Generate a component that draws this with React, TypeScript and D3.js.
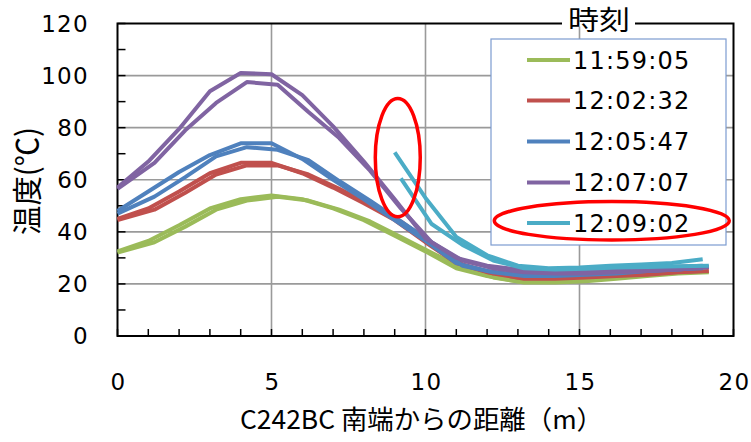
import React from "react";
import * as d3 from "d3";

// distances (m)
const distA = [0, 1, 2, 3, 4, 5, 6, 7, 8, 9, 10, 11, 12, 13, 14, 15, 16, 17, 18, 19];
const distB = [0, 1.2, 2.2, 3.2, 4.2, 5.2, 6.2, 7.2, 8.2, 9.2, 10.2, 11.2, 12.2, 13.2, 14.2, 15.2, 16.2, 17.2, 18.2, 19.2];

const times = ["11:59:05", "12:02:32", "12:05:47", "12:07:07", "12:09:02"];
const colors = ["#9BBB59", "#C0504D", "#4F81BD", "#8064A2", "#4BACC6"];

const greenA = [32.5, 36.5, 42.5, 49, 52.5, 54, 52.5, 49, 44.5, 38.5, 32.5, 26, 23, 21, 21, 21.5, 22.5, 23.5, 24.5, 25];
const greenB = [32, 36, 42, 48.5, 52, 53.5, 52, 48.5, 44, 38, 32, 26, 22.5, 20.5, 20.5, 21, 22, 23, 24, 24.5];
const redA = [45, 49, 55.5, 62.5, 66.5, 66.5, 62.5, 57, 51, 44.5, 36, 28, 24.5, 22.5, 22.5, 23, 23.5, 24, 24.5, 25];
const redB = [44.5, 48.5, 55, 62, 65.5, 65.5, 62, 56.5, 50.5, 44, 35.5, 27.5, 24, 22, 22, 22.5, 23, 23.5, 24.5, 25];
const blueA = [48, 55.5, 63, 69.5, 74, 74, 68, 60, 52.5, 44.5, 36.5, 28, 25, 23.5, 23.5, 24, 24.5, 25, 25.5, 26];
const blueB = [47, 53.5, 61, 69, 72.5, 71.5, 67.5, 59.5, 52, 44, 36, 27, 24.5, 23, 23, 23.5, 24, 25, 25.5, 26.5];
const purpleA = [57, 67, 79.5, 94, 101, 100.5, 92.5, 80.5, 67, 52.5, 37.5, 30, 27, 25.5, 25, 25, 25.5, 26, 26.5, 27];
const purpleB = [56.5, 66.5, 79, 89.5, 97.5, 96.5, 86, 76, 63.5, 49, 36, 29, 26, 24.5, 24, 24, 24.5, 25, 25.5, 26.5];
const cyanA = [null, null, null, null, null, null, null, null, null, 70.5, 53, 38, 31, 27, 26, 26.3, 27, 27.5, 28, 29.5];
const cyanB = [null, null, null, null, null, null, null, null, null, 60.5, 43, 35, 29, 26, 25.5, 25.8, 26.3, 26.5, 26.8, 27];

const seriesValues = [
  [greenA, greenB],
  [redA, redB],
  [blueA, blueB],
  [purpleA, purpleB],
  [cyanA, cyanB],
];

const xTicks = [0, 5, 10, 15, 20];
const yTicks = [0, 20, 40, 60, 80, 100, 120];
const xTitle = "C242BC 南端からの距離（m）";
const yTitle = "温度(℃)";
const legendTitle = "時刻";

// annotation ellipse around the start of 12:09:02 (data units)
const noteCenter = [9.1, 68.5];
const noteRadius = [0.73, 22.7];

export default function App() {
  const W = 751, H = 442;
  const left = 117.5, right = 733.5, top = 23.5, bottom = 336;
  const x = d3.scaleLinear().domain([0, 20]).range([left, right]);
  const y = d3.scaleLinear().domain([0, 120]).range([bottom, top]);
  const line = d3
    .line<[number, number | null]>()
    .defined((d) => d[1] != null)
    .x((d) => x(d[0]))
    .y((d) => y(d[1] as number));

  const minorX = d3.range(0, 21, 1);
  const minorY = d3.range(0, 121, 10);
  const num = "'DejaVu Sans', Verdana, sans-serif";
  const jp = "'Noto Sans CJK JP', sans-serif";

  const legX = 491, legY = 39, legW = 235, legH = 206;
  const rowY = [60, 100.5, 141.5, 182.5, 223];

  return (
    <div style={{ position: "absolute", left: 0, top: 0 }}>
      <svg width={W} height={H} style={{ display: "block", background: "#fff" }}>
        {/* grid */}
        {yTicks.filter((t) => t > 0 && t < 120).map((t) => (
          <line key={"gy" + t} x1={left} x2={right} y1={y(t)} y2={y(t)} stroke="#9a9a9a" strokeWidth={1.6} />
        ))}
        {xTicks.filter((t) => t > 0 && t < 20).map((t) => (
          <line key={"gx" + t} x1={x(t)} x2={x(t)} y1={top} y2={bottom} stroke="#9a9a9a" strokeWidth={1.6} />
        ))}
        {/* inner ticks */}
        {minorY.map((t) => (
          <line key={"ty" + t} x1={left} x2={left + 8} y1={y(t)} y2={y(t)} stroke="#000" strokeWidth={1.5} />
        ))}
        {minorX.map((t) => (
          <line key={"tx" + t} x1={x(t)} x2={x(t)} y1={bottom} y2={bottom - 7} stroke="#000" strokeWidth={1.5} />
        ))}
        {/* frame */}
        <rect x={left} y={top} width={right - left} height={bottom - top} fill="none" stroke="#000" strokeWidth={2} />

        {/* series */}
        {seriesValues.map((pair, i) =>
          pair.map((vals, j) => {
            const xs = j === 0 ? distA : distB;
            const pts = xs.map((d, k) => [d, vals[k]] as [number, number | null]);
            return (
              <path
                key={"s" + i + "-" + j}
                d={line(pts) || ""}
                fill="none"
                stroke={colors[i]}
                strokeWidth={4}
                strokeLinejoin="round"
              />
            );
          })
        )}

        {/* annotation ellipse */}
        <ellipse
          cx={x(noteCenter[0])}
          cy={y(noteCenter[1])}
          rx={x(noteRadius[0]) - x(0)}
          ry={y(0) - y(noteRadius[1])}
          fill="none"
          stroke="#ff0000"
          strokeWidth={3.5}
        />

        {/* y tick labels */}
        {yTicks.map((t) => (
          <text key={"yl" + t} x={89} y={y(t)} dy="0.36em" textAnchor="end" fontFamily={num} fontSize={23} letterSpacing={1.3} fill="#000">
            {t}
          </text>
        ))}
        {/* x tick labels */}
        {xTicks.map((t) => (
          <text key={"xl" + t} x={x(t) + 1} y={382} dy="0.36em" textAnchor="middle" fontFamily={num} fontSize={23} letterSpacing={1.3} fill="#000">
            {t}
          </text>
        ))}
        {/* axis titles */}
        <text x={421.5} y={420} dy="0.36em" textAnchor="middle" fontFamily={jp} fontSize={26} textLength={363} lengthAdjust="spacingAndGlyphs" fill="#000">
          {xTitle}
        </text>
        <text
          transform={`translate(27,181) rotate(-90)`}
          textAnchor="middle"
          dy="0.36em"
          fontFamily={jp}
          fontSize={30}
          textLength={108}
          lengthAdjust="spacingAndGlyphs"
          fill="#000"
        >
          {yTitle}
        </text>

        {/* legend */}
        <rect x={legX} y={legY} width={legW} height={legH} fill="#fff" stroke="#7c9cd0" strokeWidth={1.2} />
        {times.map((t, i) => (
          <g key={"lg" + i}>
            <line x1={527} x2={570} y1={rowY[i]} y2={rowY[i]} stroke={colors[i]} strokeWidth={4} />
            <text x={573} y={rowY[i]} dy="0.36em" fontFamily={num} fontSize={24} letterSpacing={1.2} fill="#000">
              {t}
            </text>
          </g>
        ))}
        <ellipse cx={611.8} cy={220.8} rx={117.5} ry={19.2} fill="none" stroke="#ff0000" strokeWidth={3.5} />
        {/* legend title breaking frame */}
        <rect x={562} y={top - 3} width={73} height={6} fill="#fff" />
        <text x={599} y={20} dy="0.36em" textAnchor="middle" fontFamily={jp} fontSize={27} textLength={62} lengthAdjust="spacingAndGlyphs" fill="#000">
          {legendTitle}
        </text>
      </svg>
    </div>
  );
}
